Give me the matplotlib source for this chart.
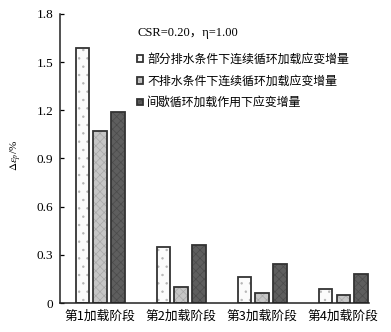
import numpy as np
import matplotlib
matplotlib.use('Agg')
import matplotlib.pyplot as plt
from matplotlib.legend_handler import HandlerTuple

plt.rcParams['hatch.linewidth'] = 0.5
plt.rcParams['mathtext.fontset'] = 'stix'

stages = ['第1加载阶段', '第2加载阶段', '第3加载阶段', '第4加载阶段']
partial_drained = [1.59, 0.35, 0.16, 0.09]
undrained = [1.07, 0.10, 0.06, 0.05]
intermittent = [1.19, 0.36, 0.24, 0.18]
series_names = ['部分排水条件下连续循环加载应变增量',
                '不排水条件下连续循环加载应变增量',
                '间歇循环加载作用下应变增量']
yticks = [0, 0.3, 0.6, 0.9, 1.2, 1.5, 1.8]
ytick_labels = ['0', '0.3', '0.6', '0.9', '1.2', '1.5', '1.8']

cjk = ['Noto Sans CJK SC', 'DejaVu Sans']
serif = ['Liberation Serif', 'Noto Sans CJK SC']

fig = plt.figure(figsize=(3.91, 3.32), dpi=100)
ax = fig.add_axes([60 / 391, 1 - 303 / 332, 309 / 391, 289 / 332])

x = np.arange(len(stages))
width = 0.167
offset = 0.218
styles = [
    # face colour, hatch colour, hatch
    ('#fbfbfb', '#b5b5b5', '..'),
    ('#c6c6c6', '#a8a8a8', 'xxxx'),
    ('#5e5e5e', '#4a4a4a', 'xxxx'),
]
handles = []
for i, (vals, (face, hcol, hatch)) in enumerate(zip([partial_drained, undrained, intermittent], styles)):
    pos = x + (i - 1) * offset
    b1 = ax.bar(pos, vals, width, color=face, edgecolor=hcol, hatch=hatch, linewidth=0)
    b2 = ax.bar(pos, vals, width, fill=False, edgecolor='#333333', linewidth=1.3)
    handles.append((b1, b2))

ax.set_xlim(-0.494, 3.317)
ax.set_ylim(0, 1.8)
ax.set_yticks(yticks)
ax.set_yticklabels(ytick_labels, family=serif, fontsize=9.5)
ax.set_xticks(x)
ax.set_xticklabels(stages, family=cjk, fontsize=9.2)
ax.tick_params(axis='x', length=0, pad=5)
ax.tick_params(axis='y', direction='in', length=3, width=0.9, pad=5)
for side in ['top', 'right']:
    ax.spines[side].set_visible(False)
for side in ['left', 'bottom']:
    ax.spines[side].set_linewidth(1.1)
    ax.spines[side].set_color('#222222')

ax.set_ylabel(r'$\Delta\varepsilon_p$/%', family=serif, fontsize=8)
ax.yaxis.set_label_coords(-0.117, 0.512)

fig.text(138 / 391, 1 - 33 / 332, 'CSR=0.20，η=1.00', family=serif,
         fontsize=9, va='center', ha='left')
ax.legend(handles, series_names, handler_map={tuple: HandlerTuple(ndivide=1, pad=0)},
          loc='upper left', bbox_to_anchor=(131 / 391, 1 - 47 / 332),
          bbox_transform=fig.transFigure, frameon=False, borderpad=0,
          handlelength=0.5, handleheight=0.5, handletextpad=0.35,
          labelspacing=0.72, prop={'family': cjk, 'size': 8.6})

fig.savefig('out.png', dpi=100)
